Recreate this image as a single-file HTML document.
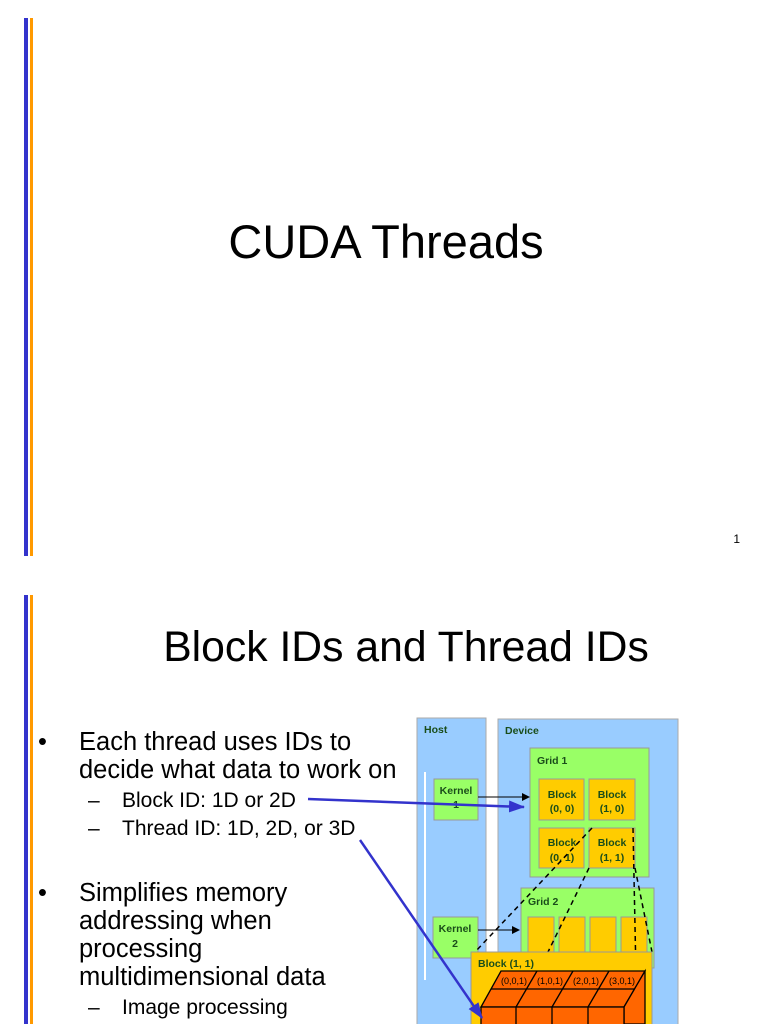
<!DOCTYPE html>
<html><head><meta charset="utf-8"><style>
html,body{margin:0;padding:0;background:#fff;}
svg{display:block;font-family:"Liberation Sans",Arial,sans-serif;}
</style></head><body>
<svg width="768" height="1024" viewBox="0 0 768 1024" xmlns="http://www.w3.org/2000/svg">
<defs>
<marker id="bh" markerWidth="8" markerHeight="8" refX="7" refY="4" orient="auto" markerUnits="userSpaceOnUse"><path d="M0,0 L8,4 L0,8 z" fill="#000"/></marker>
<marker id="bl" markerWidth="16" markerHeight="12" refX="15" refY="6" orient="auto" markerUnits="userSpaceOnUse"><path d="M0,0 L16,6 L0,12 z" fill="#3333cc"/></marker>
</defs>
<!-- slide 1 -->
<rect x="24" y="18" width="4" height="538" fill="#3333cc"/>
<rect x="30" y="18" width="3" height="538" fill="#ff9900"/>
<text x="386" y="258" font-size="47" text-anchor="middle">CUDA Threads</text>
<text x="740" y="543" font-size="12" text-anchor="end">1</text>
<!-- slide 2 -->
<rect x="24" y="595" width="4" height="429" fill="#3333cc"/>
<rect x="30" y="595" width="3" height="429" fill="#ff9900"/>
<text x="406" y="661" font-size="42.7" text-anchor="middle">Block IDs and Thread IDs</text>
<g font-size="25.5">
<text x="38" y="750">•</text>
<text x="79" y="750">Each thread uses IDs to</text>
<text x="79" y="778">decide what data to work on</text>
<text x="38" y="901">•</text>
<text x="79" y="901">Simplifies memory</text>
<text x="79" y="929">addressing when</text>
<text x="79" y="957">processing</text>
<text x="79" y="985">multidimensional data</text>
</g>
<g font-size="21">
<text x="88" y="807">–</text><text x="122" y="807">Block ID: 1D or 2D</text>
<text x="88" y="835">–</text><text x="122" y="835">Thread ID: 1D, 2D, or 3D</text>
<text x="88" y="1014">–</text><text x="122" y="1014">Image processing</text>
</g>
<!-- diagram -->
<rect x="417" y="718" width="69" height="310" fill="#99ccff" stroke="#aaa"/>
<rect x="498" y="719" width="180" height="310" fill="#99ccff" stroke="#aaa"/>
<line x1="425" y1="772" x2="425" y2="980" stroke="#fff" stroke-width="2"/>
<g font-size="10.5" font-weight="bold" fill="#1a4d1a">
<text x="424" y="733">Host</text><text x="505" y="734">Device</text>
</g>
<rect x="530" y="748" width="119" height="129" fill="#99ff66" stroke="#999"/>
<text x="537" y="764" font-size="10.5" font-weight="bold" fill="#1a4d1a">Grid 1</text>
<rect x="434" y="779" width="44" height="41" fill="#99ff66" stroke="#999"/>
<text x="456" y="794" font-size="10.5" font-weight="bold" text-anchor="middle" fill="#1a4d1a">Kernel</text>
<text x="456" y="808" font-size="10.5" font-weight="bold" text-anchor="middle" fill="#1a4d1a">1</text>
<rect x="433" y="917" width="45" height="41" fill="#99ff66" stroke="#999"/>
<text x="455" y="932" font-size="10.5" font-weight="bold" text-anchor="middle" fill="#1a4d1a">Kernel</text>
<text x="455" y="947" font-size="10.5" font-weight="bold" text-anchor="middle" fill="#1a4d1a">2</text>
<g fill="#ffcc00" stroke="#999">
<rect x="539" y="779" width="45" height="41"/><rect x="589" y="779" width="46" height="41"/>
<rect x="539" y="828" width="45" height="40"/><rect x="589" y="828" width="46" height="40"/>
</g>
<g font-size="10.5" font-weight="bold" text-anchor="middle" fill="#1a4d1a">
<text x="562" y="798">Block</text><text x="562" y="812">(0, 0)</text>
<text x="612" y="798">Block</text><text x="612" y="812">(1, 0)</text>
<text x="562" y="846">Block</text><text x="562" y="861">(0, 1)</text>
<text x="612" y="846">Block</text><text x="612" y="861">(1, 1)</text>
</g>
<rect x="521" y="888" width="133" height="80" fill="#99ff66" stroke="#999"/>
<text x="528" y="905" font-size="10.5" font-weight="bold" fill="#1a4d1a">Grid 2</text>
<g fill="#ffcc00" stroke="#999">
<rect x="528" y="917" width="26" height="40"/><rect x="559" y="917" width="26" height="40"/>
<rect x="590" y="917" width="26" height="40"/><rect x="621" y="917" width="26" height="40"/>
</g>
<line x1="478" y1="797" x2="529" y2="797" stroke="#000" marker-end="url(#bh)"/>
<line x1="478" y1="930" x2="519" y2="930" stroke="#000" marker-end="url(#bh)"/>
<g stroke="#000" stroke-width="1.5" stroke-dasharray="5,4" fill="none">
<line x1="592" y1="828" x2="475" y2="952"/>
<line x1="589" y1="868" x2="548" y2="952"/>
<line x1="633" y1="828" x2="637" y2="1024"/>
<line x1="635" y1="868" x2="652" y2="952"/>
</g>
<rect x="471" y="952" width="181" height="80" fill="#ffcc00" stroke="#999"/>
<text x="478" y="967" font-size="10.5" font-weight="bold" fill="#1a4d1a">Block (1, 1)</text>
<!-- cube -->
<g stroke="#000" stroke-width="1.3" fill="#ff6600">
<path d="M501,971 L645,971 L624,1007 L481,1007 Z"/>
<path d="M624,1007 L645,971 L645,1024 L624,1024 Z"/>
<rect x="481" y="1007" width="143" height="20"/>
<line x1="491" y1="989" x2="635" y2="989"/>
<line x1="537" y1="971" x2="516" y2="1007"/>
<line x1="573" y1="971" x2="552" y2="1007"/>
<line x1="609" y1="971" x2="588" y2="1007"/>
<line x1="516" y1="1007" x2="516" y2="1024"/>
<line x1="552" y1="1007" x2="552" y2="1024"/>
<line x1="588" y1="1007" x2="588" y2="1024"/>
</g>
<g font-size="9" text-anchor="middle" fill="#000">
<text x="514" y="984">(0,0,1)</text><text x="550" y="984">(1,0,1)</text>
<text x="586" y="984">(2,0,1)</text><text x="622" y="984">(3,0,1)</text>
</g>
<!-- blue arrows -->
<line x1="308" y1="799" x2="524" y2="807" stroke="#3333cc" stroke-width="2.5" marker-end="url(#bl)"/>
<line x1="360" y1="840" x2="482" y2="1018" stroke="#3333cc" stroke-width="2.5" marker-end="url(#bl)"/>
</svg>
</body></html>
